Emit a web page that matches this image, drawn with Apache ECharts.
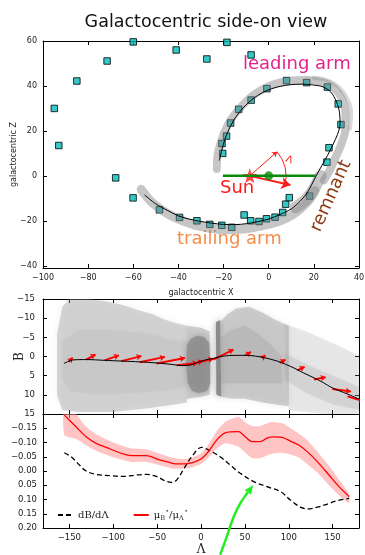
<!DOCTYPE html>
<html>
<head>
<meta charset="utf-8">
<script src="https://cdn.jsdelivr.net/npm/echarts@6/dist/echarts.min.js"></script>
<style>
  html, body { margin: 0; padding: 0; background: #fff; }
  #chart { width: 365px; height: 555px; }
</style>
</head>
<body>
<div id="chart"></div>
<script>
// ---------- top panel: stream seen side-on, galactocentric X / Z (kpc) ----------
const memberSquares = [
  [-95, 30], [-93, 13.5], [-85, 42.2], [-71.6, 51.1], [-60, 59.6], [-41, 56], [-27.4, 52], [-18.5, 59.4], [-7.8, 53.8],
  [7.9, 42.4], [16.8, 41.5], [26, 39.5], [30.8, 32], [32, 22.8], [26.7, 12.5], [25.8, 6.1],
  [-0.8, 38.8], [-7.8, 33.7], [-13.3, 29.6], [-16.9, 23.5], [-18.7, 17.7], [-20.7, 14.4], [-20.4, 10],
  [-67.8, -0.9], [-60.1, -9.8], [-48.4, -15.1], [-39.5, -18.5], [-31.8, -20], [-26.1, -21.6], [-20.8, -22], [-16.4, -22.9],
  [-10.9, -17.4], [-8, -20], [-4.3, -20.3], [-1, -19.1], [2.8, -18.4], [6.2, -16.3], [7.5, -12.6], [9.1, -9.7], [18.1, -9]
];
const trackXZ = [
  [-55, -8.5], [-50, -12.5], [-45, -15.3], [-40, -17.8], [-35, -19.3], [-30, -20.3], [-25, -21.1], [-20, -21.6],
  [-15, -21.7], [-10, -21.3], [-5, -20.4], [0, -19.2], [5, -17.2], [10, -14.7], [14, -11.2], [17, -7.6], [19, -4],
  [21, 0], [23.5, 4.5], [26, 9], [28.5, 14], [30.5, 18.5], [31.6, 23], [31.4, 28], [30, 33], [27.5, 37.3],
  [24, 39.6], [20, 40.4], [15, 40.8], [10, 40.6], [5, 39.8], [0, 38.3], [-5, 35.7], [-10, 31.6], [-14, 27],
  [-17, 22], [-19.3, 16.5], [-20.8, 11.5], [-21.9, 6.8]
];
const leadCloud = [
  [-23, 3], [-22.8, 8], [-21.8, 13], [-19.8, 19], [-16.8, 25], [-12, 31], [-6, 36.5], [1, 40.3], [9, 42.2],
  [17, 42.6], [24, 41.6], [29, 39], [32.6, 34], [34, 28], [34, 21], [32.5, 15], [30, 9], [27.3, 3], [24.5, -2]
];
const leadCloudOuter = [[20, 43.5], [26, 42.5], [31, 39.5], [35, 34], [36.5, 28], [36, 21]];
const remnantCloud = [[23, 0], [21, -4], [19, -7.5], [16, -11], [12, -14]];
const trailCloud = [
  [-56.5, -6], [-52, -11.5], [-46.5, -15.8], [-40, -19.3], [-33, -21.8], [-26, -23.3], [-18, -24], [-10, -23.5],
  [-3, -22.2], [3, -20.7], [8, -18.7], [12, -16.3], [15.5, -13.3], [18.5, -10], [20.5, -6.5]
];
const sunXZ = [-8.4, 0];
const centreXZ = [0, 0];
const planeLine = [[-20.3, 0], [20.8, 0]];
const sunMotionEnd = [9.6, -4.1];
const lambdaRefEnd = [3.7, 10.7];

// ---------- middle panel: stream coordinates Lambda / B (deg) ----------
const trackLB = [
  [-156, 1.8], [-146, 0.9], [-130, 0.8], [-110, 1.0], [-90, 1.2], [-70, 1.4], [-50, 1.7], [-32, 2.1], [-22, 2.4],
  [-12, 2.2], [-5, 1.6], [5, 0.9], [14, 0.5], [25, -0.1], [40, -0.3], [52, -0.3], [62, -0.1], [72, 0.3], [87, 1.2],
  [96, 2], [106, 3], [117, 4.3], [129, 5.6], [140, 6.9], [148, 8], [158, 9], [167, 9.8], [180, 11.1]
];
// proper-motion arrows: [Lambda0, B0, Lambda1, B1]
const pmArrows = [
  [-150.8, 1.4, -146.2, 0.3], [-130.9, 0.8, -120.2, -0.5], [-110, 1.0, -93.5, -0.3], [-90.8, 1.2, -67.9, -0.1],
  [-69.8, 1.5, -41.2, 0.1], [-50.7, 1.8, -18.3, 0.4], [-27.8, 2.3, -4, 1.7], [-14, 2.2, 2, 1.2], [-2, 1.5, 14, 0.6],
  [14, 0.8, 37, -1.8], [50.4, -0.3, 56.9, -1.2], [69.5, 0.4, 73.3, -0.3], [89.7, 1.7, 96.2, 0.8],
  [109.6, 3.6, 118, 2.7], [128.6, 6, 142, 5.4], [149.7, 8.5, 170.6, 9.1], [166.8, 10.4, 186, 11.7]
];
// particle cloud outlines [Lambda, B]
const cloudLeft = [[-164, -6], [-158, -13], [-150, -15], [-130, -15], [-110, -14.5], [-90, -13.5], [-70, -12], [-55, -11],
  [-40, -9.5], [-25, -8.5], [-16, -8], [-16, 12], [-30, 12.5], [-60, 13.5], [-100, 14.5], [-140, 14.5], [-158, 14], [-164, 10]];
const cloudLeftCore = [[-158, -4], [-140, -7], [-100, -7], [-60, -6], [-35, -4.5], [-16, -4], [-16, 8], [-40, 9],
  [-80, 9.5], [-120, 10], [-150, 9], [-158, 6]];
const cloudMid = [[-16, -8], [0, -7.5], [10, -6.5], [10, 10], [0, 10.5], [-16, 11]];
const cloudBlob = [[-16, -3], [-12, -4.5], [-4, -5.5], [4, -5], [9, -3.5], [10.5, 1], [10.5, 7], [7, 9], [-2, 9.5],
  [-10, 9], [-15, 7], [-17, 2]];
const cloudSpike = [[17, -9], [22, -9.5], [23, 10.5], [17.5, 10]];
const cloudRight = [[22, -9], [30, -11], [40, -12.5], [55, -13], [70, -11.5], [85, -9.5], [100, -8], [100, 13],
  [85, 12.5], [70, 12], [50, 11], [35, 11], [23, 10.5]];
const cloudRightCore = [[23, -5], [35, -7], [50, -8], [65, -6], [80, -3], [92, 0], [92, 7], [70, 7], [50, 7],
  [35, 7], [23, 7]];
const cloudTail = [[95, -8.5], [120, -6.5], [140, -4.5], [160, -2.5], [181, 0], [181, 15], [140, 15], [100, 14]];
const cloudTailCore = [[95, -1], [120, 2], [150, 5], [181, 8], [181, 14], [150, 12.5], [120, 9.5], [95, 6]];

// ---------- bottom panel: track slope vs proper-motion ratio ----------
const ratioLine = [
  [-155.7, -0.196], [-142.4, -0.155], [-130.9, -0.12], [-119.4, -0.097], [-108, -0.083], [-98.5, -0.071], [-89, -0.06],
  [-79.4, -0.054], [-62.2, -0.054], [-48.9, -0.041], [-39.3, -0.033], [-29.8, -0.025], [-18.3, -0.025], [-8.8, -0.03],
  [0.8, -0.044], [8.4, -0.068], [18, -0.109], [27.5, -0.134], [42.7, -0.138], [50.4, -0.12], [58, -0.103],
  [67.6, -0.103], [75.2, -0.115], [82.8, -0.12], [92.4, -0.118], [101.9, -0.105], [111.4, -0.091], [121, -0.068],
  [132.5, -0.033], [145.8, 0.014], [157.2, 0.055], [168.7, 0.09]
];
const ratioUpper = [
  [-155.7, -0.26], [-142, -0.2], [-131, -0.155], [-119, -0.128], [-100, -0.1], [-80, -0.08], [-62, -0.076],
  [-49, -0.062], [-30, -0.045], [-18, -0.042], [-9, -0.048], [1, -0.064], [8, -0.09], [18, -0.14], [27.5, -0.172],
  [42.7, -0.19], [50, -0.172], [58, -0.158], [67.6, -0.158], [80, -0.172], [92, -0.168], [102, -0.15], [111, -0.132],
  [121, -0.109], [132.5, -0.068], [145.8, -0.018], [157, 0.03], [168.7, 0.08]
];
const ratioLower = [
  [-155.7, -0.126], [-142, -0.112], [-131, -0.09], [-119, -0.07], [-100, -0.048], [-80, -0.032], [-62, -0.032],
  [-49, -0.022], [-30, -0.008], [-18, -0.01], [-9, -0.014], [1, -0.026], [8, -0.046], [18, -0.078], [27.5, -0.097],
  [42.7, -0.085], [50, -0.066], [58, -0.046], [67.6, -0.046], [80, -0.06], [92, -0.064], [102, -0.058], [111, -0.048],
  [121, -0.025], [132.5, 0.005], [145.8, 0.05], [157, 0.085], [168.7, 0.112]
];
const slopeLine = [
  [-155.7, -0.064], [-148, -0.05], [-138.5, -0.021], [-130.9, 0], [-119.4, 0.012], [-104.2, 0.016], [-89, 0.019],
  [-73.6, 0.014], [-62.2, 0.012], [-50.7, 0.019], [-41.2, 0.034], [-33.6, 0.04], [-27.8, 0.032], [-20.2, -0.004],
  [-10.6, -0.05], [0.8, -0.083], [10.3, -0.071], [21.8, -0.05], [33.2, -0.021], [44.7, 0.008], [59.9, 0.037],
  [75.2, 0.055], [90.5, 0.072], [101.9, 0.102], [113.4, 0.127], [121, 0.133], [132.5, 0.127], [143.9, 0.116],
  [155.4, 0.104], [168.7, 0.096]
];
const pointerPath = [[21.8, 0.294], [29.4, 0.23], [37, 0.162], [44.7, 0.114], [52.3, 0.079], [59.5, 0.05]];

// ---------- tick values ----------
const zTicks = [-40, -20, 0, 20, 40, 60];
const lambdaTicks = [-150, -100, -50, 0, 50, 100, 150];

// ---------- drawing ----------
const SANS = 'DejaVu Sans';
const SERIF = 'DejaVu Serif';
const minus = v => String(v).replace('-', '\u2212');

function xAx(gridIndex, position, min, max, extra) {
  const a = {
    type: 'value', gridIndex, position, min, max,
    axisLine: { show: true, onZero: false, lineStyle: { color: '#000', width: 1 } },
    axisTick: { show: true, inside: true, length: 4, lineStyle: { color: '#000' } },
    axisLabel: { show: false },
    splitLine: { show: false }
  };
  return Object.assign(a, extra || {});
}
const yAx = xAx;
const lamTick = { show: true, inside: true, length: 4, customValues: lambdaTicks, lineStyle: { color: '#000' } };
const zTick = { show: true, inside: true, length: 4, customValues: zTicks, lineStyle: { color: '#000' } };

const starPath = 'path://M0,-10L2.35,-3.24L9.51,-3.09L3.8,1.24L5.88,8.09L0,4L-5.88,8.09L-3.8,1.24L-9.51,-3.09L-2.35,-3.24Z';

const cloudLayers = [
  { pts: cloudLeft, fill: 'rgba(150,150,150,0.36)' },
  { pts: cloudLeftCore, fill: 'rgba(150,150,150,0.1)' },
  { pts: cloudMid, fill: 'rgba(150,150,150,0.42)' },
  { pts: cloudBlob, fill: 'rgba(140,140,140,0.8)' },
  { pts: cloudSpike, fill: 'rgba(128,128,128,0.85)' },
  { pts: cloudRight, fill: 'rgba(150,150,150,0.42)' },
  { pts: cloudRightCore, fill: 'rgba(150,150,150,0.25)' },
  { pts: cloudTail, fill: 'rgba(150,150,150,0.2)' },
  { pts: cloudTailCore, fill: 'rgba(150,150,150,0.2)' }
];

const cloudStyle = (w, a) => ({ color: 'rgba(128,128,128,' + a + ')', width: w, cap: 'round', join: 'round' });

const option = {
  animation: false,
  backgroundColor: '#fff',
  title: {
    text: 'Galactocentric side-on view', left: 201, top: 8, textAlign: 'center',
    textStyle: { fontFamily: SANS, fontSize: 17.5, fontWeight: 'normal', color: '#111' }
  },
  grid: [
    { left: 43, top: 41, width: 316, height: 227, outerBoundsMode: 'none' },
    { left: 43, top: 299, width: 316, height: 115, outerBoundsMode: 'none' },
    { left: 43, top: 414, width: 316, height: 114, outerBoundsMode: 'none' }
  ],
  xAxis: [
    xAx(0, 'bottom', -100, 40, {
      interval: 20,
      axisLabel: { show: true, margin: 6, fontFamily: SANS, fontSize: 8, color: '#222', formatter: minus },
      name: 'galactocentric X', nameLocation: 'middle', nameGap: 21,
      nameTextStyle: { fontFamily: SANS, fontSize: 8, color: '#222' }
    }),
    xAx(0, 'top', -100, 40, { interval: 20 }),
    xAx(1, 'bottom', -180, 180, { axisTick: lamTick }),
    xAx(1, 'top', -180, 180, { axisTick: lamTick }),
    xAx(2, 'bottom', -180, 180, {
      axisTick: lamTick,
      axisLabel: { show: true, customValues: lambdaTicks, margin: 5, fontFamily: SANS, fontSize: 8.5, color: '#222', formatter: minus },
      name: '\u039b', nameLocation: 'middle', nameGap: 16, nameMoveOverlap: false,
      nameTextStyle: { fontFamily: SERIF, fontSize: 12, color: '#222' }
    }),
    xAx(2, 'top', -180, 180, { axisTick: lamTick })
  ],
  yAxis: [
    yAx(0, 'left', -41, 60, {
      axisTick: zTick,
      axisLabel: { show: true, customValues: zTicks, margin: 6, fontFamily: SANS, fontSize: 8, color: '#222', formatter: minus },
      name: 'galactocentric Z', nameLocation: 'middle', nameGap: 25, nameMoveOverlap: false,
      nameTextStyle: { fontFamily: SANS, fontSize: 8, color: '#222' }
    }),
    yAx(0, 'right', -41, 60, { axisTick: zTick }),
    yAx(1, 'left', -15, 15, {
      inverse: true, interval: 5,
      axisLabel: { show: true, margin: 8, fontFamily: SANS, fontSize: 8.5, color: '#222', formatter: minus, showMinLabel: true, showMaxLabel: true },
      name: 'B', nameLocation: 'middle', nameGap: 17, nameMoveOverlap: false,
      nameTextStyle: { fontFamily: SERIF, fontSize: 12, color: '#222' }
    }),
    yAx(1, 'right', -15, 15, { inverse: true, interval: 5 }),
    yAx(2, 'left', -0.2, 0.2, {
      inverse: true, interval: 0.05,
      axisLabel: {
        show: true, margin: 6, fontFamily: SANS, fontSize: 8.5, color: '#222', showMinLabel: true,
        formatter: v => (Math.abs(v + 0.2) < 1e-9 ? '' : minus(v.toFixed(2)))
      }
    }),
    yAx(2, 'right', -0.2, 0.2, { inverse: true, interval: 0.05 })
  ],
  legend: {
    left: 52, top: 503, itemWidth: 15, itemHeight: 10, itemGap: 24,
    itemStyle: { opacity: 0 },
    data: ['dBdL', 'muRatio'],
    formatter: n => n === 'dBdL' ? '{t|dB/d\u039b}' : '{t|\u03bc}{sub|B}{sup|\u22c6}{t|/\u03bc}{sub|\u039b}{sup|\u22c6}',
    textStyle: {
      color: '#222',
      rich: {
        t: { fontFamily: SERIF, fontSize: 10, color: '#222', lineHeight: 14, verticalAlign: 'middle' },
        sub: { fontFamily: SERIF, fontSize: 6.5, color: '#222', lineHeight: 14, verticalAlign: 'bottom' },
        sup: { fontFamily: SERIF, fontSize: 7, color: '#222', lineHeight: 14, verticalAlign: 'top' }
      }
    }
  },
  series: [
    // --- top panel ---
    { type: 'line', xAxisIndex: 0, yAxisIndex: 0, data: leadCloud, smooth: 0.4, showSymbol: false, silent: true,
      lineStyle: cloudStyle(8, 0.45) },
    { type: 'line', xAxisIndex: 0, yAxisIndex: 0, data: leadCloudOuter, smooth: 0.4, showSymbol: false, silent: true,
      lineStyle: cloudStyle(4, 0.3) },
    { type: 'line', xAxisIndex: 0, yAxisIndex: 0, data: trailCloud, smooth: 0.4, showSymbol: false, silent: true,
      lineStyle: cloudStyle(9, 0.45) },
    { type: 'line', xAxisIndex: 0, yAxisIndex: 0, data: remnantCloud, smooth: 0.4, showSymbol: false, silent: true,
      lineStyle: cloudStyle(12, 0.45) },
    { type: 'line', xAxisIndex: 0, yAxisIndex: 0, data: trackXZ, smooth: 0.3, showSymbol: false,
      lineStyle: { color: '#000', width: 1 } },
    { type: 'line', xAxisIndex: 0, yAxisIndex: 0, data: planeLine, showSymbol: false,
      lineStyle: { color: '#0a8a0a', width: 2.5 } },
    { type: 'custom', xAxisIndex: 0, yAxisIndex: 0, data: [sunXZ],
      renderItem: (params, api) => {
        const c = api.coord(sunXZ), a = api.coord(lambdaRefEnd), b = api.coord(sunMotionEnd);
        const r = Math.hypot(a[0] - c[0], a[1] - c[1]);
        return {
          type: 'arc',
          shape: { cx: c[0], cy: c[1], r, startAngle: Math.atan2(a[1] - c[1], a[0] - c[0]),
                   endAngle: Math.atan2(b[1] - c[1], b[0] - c[0]) + 0.04, clockwise: true },
          style: { stroke: '#ff1a1a', fill: null, lineWidth: 1 }
        };
      } },
    { type: 'lines', coordinateSystem: 'cartesian2d', xAxisIndex: 0, yAxisIndex: 0,
      symbol: ['none', 'arrow'], symbolSize: 5,
      lineStyle: { color: '#ff1a1a', width: 1, opacity: 1 },
      data: [{ coords: [sunXZ, lambdaRefEnd] }] },
    { type: 'lines', coordinateSystem: 'cartesian2d', xAxisIndex: 0, yAxisIndex: 0,
      symbol: ['none', 'arrow'], symbolSize: 9,
      lineStyle: { color: '#ff1a1a', width: 2, opacity: 1 },
      data: [{ coords: [sunXZ, sunMotionEnd] }] },
    { type: 'scatter', xAxisIndex: 0, yAxisIndex: 0, data: memberSquares, symbol: 'rect', symbolSize: 6.5,
      itemStyle: { color: '#00bcbc', borderColor: '#000', borderWidth: 1 } },
    { type: 'scatter', xAxisIndex: 0, yAxisIndex: 0, data: [centreXZ], symbol: 'circle', symbolSize: 9,
      itemStyle: { color: '#0a8a0a' } },
    { type: 'scatter', xAxisIndex: 0, yAxisIndex: 0, data: [sunXZ], symbol: starPath, symbolSize: 15,
      itemStyle: { color: '#ff1a1a' } },

    // --- middle panel ---
    { type: 'custom', xAxisIndex: 2, yAxisIndex: 2, clip: true, silent: true,
      data: cloudLayers.map(l => l.pts[0]),
      renderItem: (params, api) => {
        const layer = cloudLayers[params.dataIndex];
        return { type: 'polygon', shape: { points: layer.pts.map(p => api.coord(p)) },
                 style: { fill: layer.fill, shadowBlur: 6, shadowColor: layer.fill } };
      } },
    { type: 'line', xAxisIndex: 2, yAxisIndex: 2, data: trackLB, smooth: 0.3, showSymbol: false,
      lineStyle: { color: '#000', width: 1 } },
    { type: 'lines', coordinateSystem: 'cartesian2d', xAxisIndex: 2, yAxisIndex: 2, clip: true,
      symbol: ['none', 'arrow'], symbolSize: 5,
      lineStyle: { color: '#ff0000', width: 2, opacity: 1 },
      data: pmArrows.map(a => ({ coords: [[a[0], a[1]], [a[2], a[3]]] })) },

    // --- bottom panel ---
    { type: 'custom', xAxisIndex: 4, yAxisIndex: 4, clip: true, silent: true, data: [ratioUpper[0]],
      renderItem: (params, api) => {
        const pts = ratioUpper.map(p => api.coord(p)).concat(ratioLower.slice().reverse().map(p => api.coord(p)));
        return { type: 'polygon', shape: { points: pts, smooth: 0.2 }, style: { fill: 'rgba(255,150,150,0.55)' } };
      } },
    { name: 'dBdL', type: 'line', xAxisIndex: 4, yAxisIndex: 4, data: slopeLine, smooth: 0.35, showSymbol: false,
      symbol: 'none', itemStyle: { color: '#000' }, lineStyle: { color: '#000', width: 1.3, type: [5, 3] } },
    { name: 'muRatio', type: 'line', xAxisIndex: 4, yAxisIndex: 4, data: ratioLine, smooth: 0.3, showSymbol: false,
      symbol: 'none', itemStyle: { color: '#ff0000' }, lineStyle: { color: '#ff0000', width: 1.3 } },
    { type: 'custom', xAxisIndex: 4, yAxisIndex: 4, clip: false, silent: true, data: [pointerPath[0]],
      renderItem: (params, api) => {
        const pts = pointerPath.map(p => api.coord(p));
        const n = pts.length, tip = pts[n - 1], prev = pts[n - 2];
        const ang = Math.atan2(tip[1] - prev[1], tip[0] - prev[0]);
        const L = 9, W = 4;
        const bx = tip[0] - L * Math.cos(ang), by = tip[1] - L * Math.sin(ang);
        const head = [tip,
          [bx + W * Math.sin(ang), by - W * Math.cos(ang)],
          [bx - W * Math.sin(ang), by + W * Math.cos(ang)]];
        const body = pts.slice(0, n - 1).concat([[bx, by]]);
        return { type: 'group', children: [
          { type: 'polyline', shape: { points: body, smooth: 0.4 }, style: { stroke: '#22ee22', lineWidth: 2.5, fill: null } },
          { type: 'polygon', shape: { points: head }, style: { fill: '#22ee22' } }
        ] };
      } }
  ],
  graphic: [
    { type: 'text', left: 243, top: 55, style: { text: 'leading arm', fontFamily: SANS, fontSize: 18, fill: '#e6228c' } },
    { type: 'text', left: 220, top: 179, style: { text: 'Sun', fontFamily: SANS, fontSize: 18, fill: '#ff1a1a' } },
    { type: 'text', left: 177, top: 230, style: { text: 'trailing arm', fontFamily: SANS, fontSize: 18, fill: '#f68c4a' } },
    { type: 'text', x: 331, y: 196, rotation: 1.15,
      style: { text: 'remnant', fontFamily: SANS, fontSize: 18, fill: '#8b3a10', align: 'center', verticalAlign: 'middle' } },
    { type: 'text', x: 289, y: 160, rotation: -0.35,
      style: { text: '\u039b', fontFamily: SANS, fontSize: 10, fill: '#ff1a1a', align: 'center', verticalAlign: 'middle' } }
  ]
};

const chart = echarts.init(document.getElementById('chart'));
chart.setOption(option);
</script>
</body>
</html>
